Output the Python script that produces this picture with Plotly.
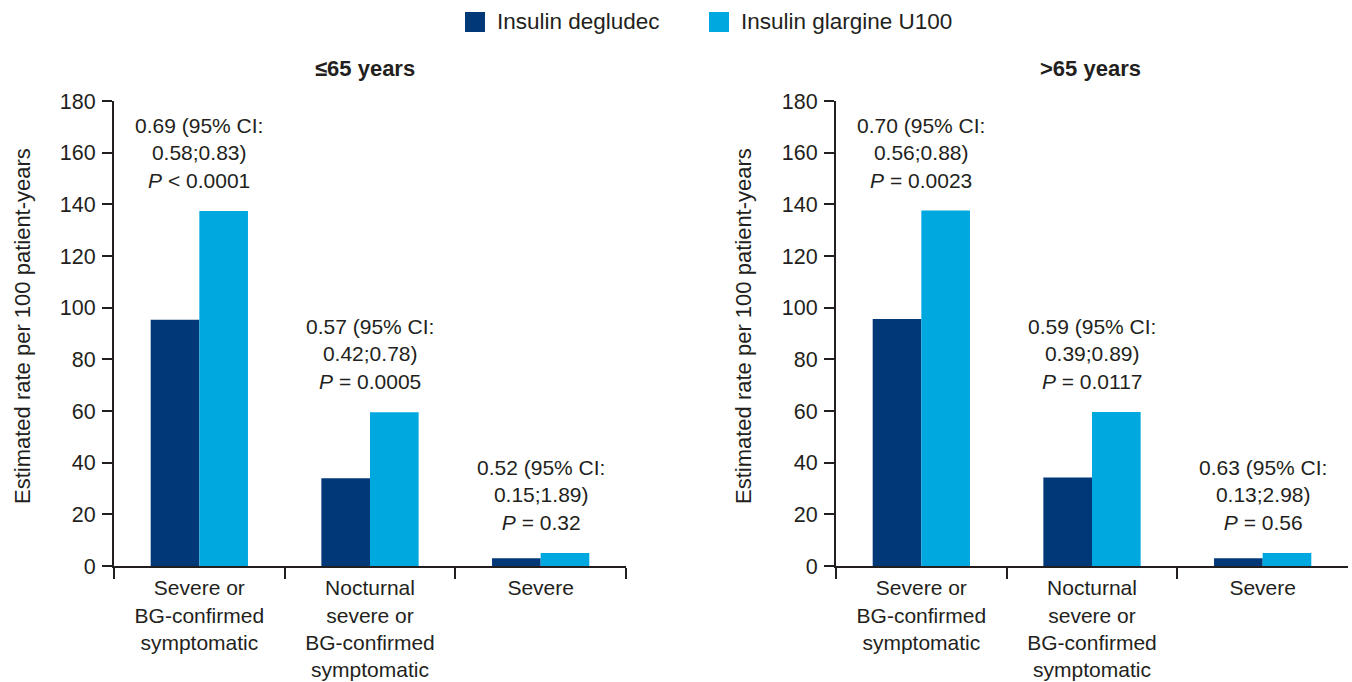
import plotly.graph_objects as go

categories = ["Severe or<br>BG-confirmed<br>symptomatic",
              "Nocturnal<br>severe or<br>BG-confirmed<br>symptomatic",
              "Severe"]
series_names = ["Insulin degludec", "Insulin glargine U100"]
young_degludec = [95.3, 34.0, 3.0]
young_glargine = [137.4, 59.5, 5.0]
old_degludec = [95.6, 34.3, 3.0]
old_glargine = [137.6, 59.6, 5.0]
young_notes = ["0.69 (95% CI:<br>0.58;0.83)<br><i>P</i> &lt; 0.0001",
               "0.57 (95% CI:<br>0.42;0.78)<br><i>P</i> = 0.0005",
               "0.52 (95% CI:<br>0.15;1.89)<br><i>P</i> = 0.32"]
old_notes = ["0.70 (95% CI:<br>0.56;0.88)<br><i>P</i> = 0.0023",
             "0.59 (95% CI:<br>0.39;0.89)<br><i>P</i> = 0.0117",
             "0.63 (95% CI:<br>0.13;2.98)<br><i>P</i> = 0.56"]
panel_titles = ["<b>≤65 years</b>", "<b>>65 years</b>"]
y_title = "Estimated rate per 100 patient-years"
y_ticks = [0, 20, 40, 60, 80, 100, 120, 140, 160, 180]

DARK = "#003878"
LIGHT = "#00A8E0"
TXT = "#231F20"
FONT = "Liberation Sans"
colors = [DARK, LIGHT]

W, H = 1352, 682
fig = go.Figure()

panels = [
    (young_degludec, young_glargine, young_notes, "x", "y"),
    (old_degludec, old_glargine, old_notes, "x2", "y2"),
]
for deg, gla, notes, xa, ya in panels:
    fig.add_trace(go.Bar(x=categories, y=deg, name=series_names[0], marker_color=DARK,
                         marker_line_width=0, xaxis=xa, yaxis=ya, showlegend=False))
    fig.add_trace(go.Bar(x=categories, y=gla, name=series_names[1], marker_color=LIGHT,
                         marker_line_width=0, xaxis=xa, yaxis=ya, showlegend=False))
    for c, d, g, n in zip(categories, deg, gla, notes):
        fig.add_annotation(x=c, y=max(d, g), xref=xa, yref=ya, text=n, showarrow=False,
                           xanchor="center", yanchor="bottom", yshift=17, align="center",
                           font=dict(size=21, color=TXT, family=FONT))

xdoms = [[114 / W, 626 / W], [836 / W, 1348 / W]]
ydom = [1 - 566 / H, 1 - 101 / H]
ytitle_x = [22 / W, 743 / W]
title_cx = [365 / W, 1090 / W]

axis_common = dict(showline=True, linecolor="#231F20", linewidth=2, ticks="outside",
                   tickcolor="#231F20", tickwidth=2, showgrid=False, zeroline=False,
                   automargin=False, ticklabelstandoff=2)

for i, (xn, yn) in enumerate([("xaxis", "yaxis"), ("xaxis2", "yaxis2")]):
    xa_anchor = "y" if i == 0 else "y2"
    ya_anchor = "x" if i == 0 else "x2"
    fig.layout[xn] = dict(domain=xdoms[i], anchor=xa_anchor, type="category",
                          range=[-0.5, 2.5], tickson="boundaries", ticklen=11,
                          tickfont=dict(size=21, color=TXT, family=FONT),
                          **axis_common)
    fig.layout[yn] = dict(domain=ydom, anchor=ya_anchor, range=[0, 180],
                          tickvals=y_ticks, ticklen=10,
                          tickfont=dict(size=21.5, color=TXT, family=FONT),
                          **axis_common)
    fig.add_annotation(x=title_cx[i], y=1 - 68 / H, xref="paper", yref="paper",
                       text=panel_titles[i], showarrow=False,
                       xanchor="center", yanchor="middle",
                       font=dict(size=22, color=TXT, family=FONT))
    fig.add_annotation(x=ytitle_x[i], y=1 - 326 / H, xref="paper", yref="paper",
                       text=y_title, textangle=-90, showarrow=False,
                       xanchor="center", yanchor="middle",
                       font=dict(size=22, color=TXT, family=FONT))

# legend (swatches + labels)
legend_sw_x = [465, 709]
for i, name in enumerate(series_names):
    x0 = legend_sw_x[i]
    fig.add_shape(type="rect", xref="paper", yref="paper",
                  x0=x0 / W, x1=(x0 + 20) / W, y0=1 - 32 / H, y1=1 - 12 / H,
                  fillcolor=colors[i], line=dict(width=0))
    fig.add_annotation(x=(x0 + 30) / W, y=1 - 22 / H, xref="paper", yref="paper",
                       text=name, showarrow=False, xanchor="left", yanchor="middle",
                       font=dict(size=22.5, color=TXT, family=FONT))

fig.update_layout(
    width=W, height=H, margin=dict(l=0, r=0, t=0, b=0, autoexpand=False),
    paper_bgcolor="white", plot_bgcolor="white",
    barmode="group", bargap=0.43, bargroupgap=0,
    font=dict(family=FONT, color=TXT, size=21),
    showlegend=False,
)

fig.write_html("out.html", config={"displayModeBar": False},
               post_script="document.body.style.margin='0';")
